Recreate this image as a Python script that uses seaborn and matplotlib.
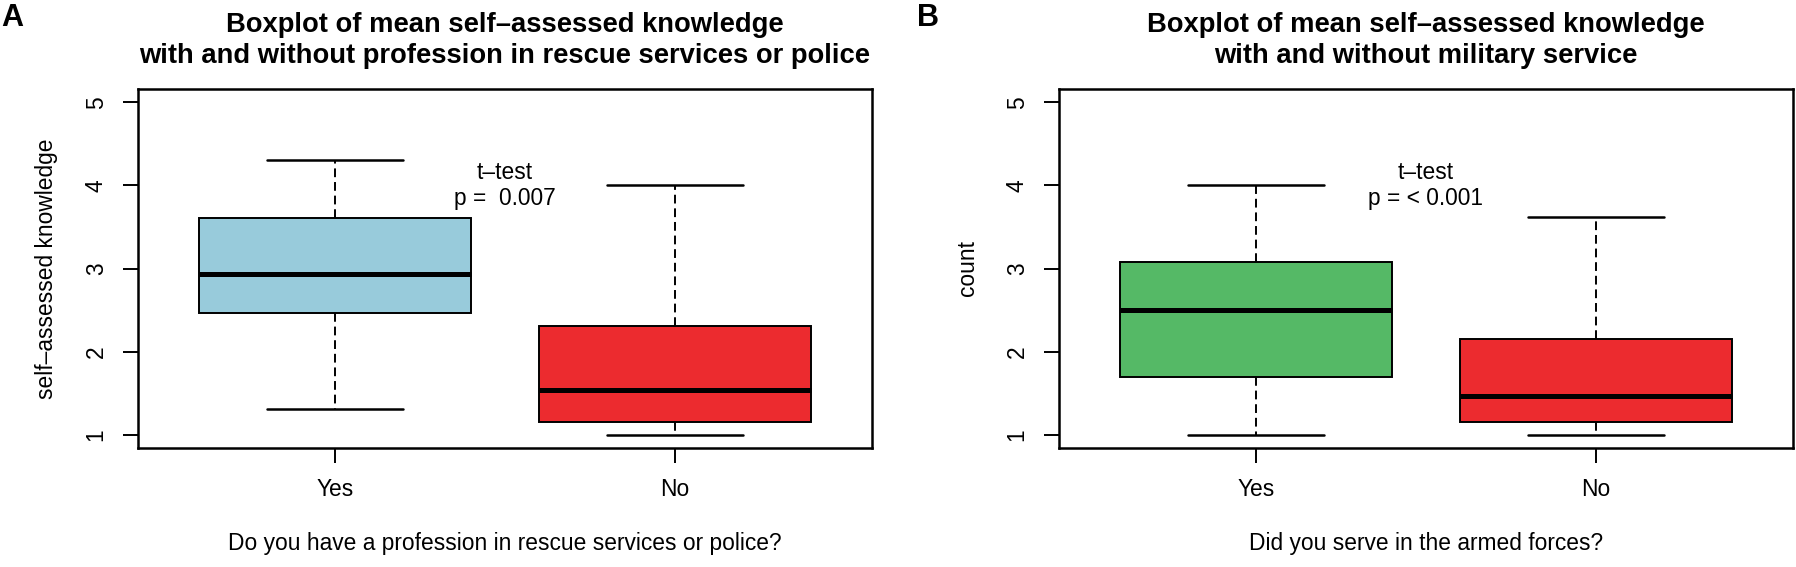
import matplotlib.pyplot as plt
import pandas as pd
import seaborn as sns

# five-number summaries (min, q1, median, q3, max)
groups = ["Yes", "No"]
rescue_yes = [1.31, 2.46, 2.93, 3.61, 4.31]
rescue_no = [1.0, 1.15, 1.54, 2.31, 4.0]
military_yes = [1.0, 1.69, 2.50, 3.08, 4.0]
military_no = [1.0, 1.15, 1.46, 2.15, 3.62]

rescue_colors = ["#98CBDB", "#EC2B2F"]
military_colors = ["#55B966", "#EC2B2F"]

titles = ["Boxplot of mean self\u2013assessed knowledge\nwith and without profession in rescue services or police",
          "Boxplot of mean self\u2013assessed knowledge\nwith and without military service"]
xlabels = ["Do you have a profession in rescue services or police?",
           "Did you serve in the armed forces?"]
ylabels = ["self\u2013assessed knowledge", "count"]
pvalues = ["t\u2013test\np =  0.007", "t\u2013test\np = < 0.001"]

sns.set_style("white")
plt.rcParams['font.family'] = ['Liberation Sans', 'DejaVu Sans']
plt.rcParams['text.color'] = 'black'
plt.rcParams['axes.labelcolor'] = 'black'
plt.rcParams['xtick.color'] = 'black'
plt.rcParams['ytick.color'] = 'black'

base = 16.4

fig = plt.figure(figsize=(17.96, 5.67), dpi=100)
ax1 = fig.add_axes([138 / 1796, 1 - 448 / 567, 734 / 1796, 359 / 567])
ax2 = fig.add_axes([1059 / 1796, 1 - 448 / 567, 734 / 1796, 359 / 567])

panels = [(ax1, rescue_yes, rescue_no, rescue_colors),
          (ax2, military_yes, military_no, military_colors)]

for i, (ax, yes, no, colors) in enumerate(panels):
    df = pd.DataFrame({"group": [groups[0]] * len(yes) + [groups[1]] * len(no),
                       "value": yes + no})
    sns.boxplot(data=df, x="group", y="value", hue="group", order=groups,
                hue_order=groups, palette=colors, saturation=1, width=0.8,
                whis=(0, 100), linecolor="black", linewidth=1.4,
                legend=False, ax=ax, capwidths=0.4,
                medianprops=dict(linewidth=3.6, solid_capstyle="butt"),
                whiskerprops=dict(linestyle=(0, (4.5, 2.5)), linewidth=1.4),
                capprops=dict(linewidth=1.8))

    ax.set_xlim(-0.58, 1.58)
    ax.set_ylim(0.84, 5.16)
    ax.set_yticks([1, 2, 3, 4, 5])
    ax.set_yticklabels(["1", "2", "3", "4", "5"], rotation=90, va="center")
    ax.tick_params(axis="both", direction="out", length=10.8, width=1.4,
                   labelsize=base, pad=11, left=True, bottom=True,
                   colors="black")
    for s in ax.spines.values():
        s.set_linewidth(1.8)
        s.set_color("black")

    ax.set_title(titles[i], fontsize=19.7, fontweight="bold", pad=19,
                 linespacing=1.25, color="black")
    ax.set_xlabel(xlabels[i], fontsize=base, labelpad=22)
    ax.set_ylabel(ylabels[i], fontsize=base, labelpad=19)
    ax.text(0.5, 4.0, pvalues[i], ha="center", va="center", fontsize=base,
            linespacing=1.2)

fig.text(1 / 1796, 1 - 18 / 567, "A", fontsize=22, fontweight="bold",
         ha="left", va="center")
fig.text(917 / 1796, 1 - 18 / 567, "B", fontsize=22, fontweight="bold",
         ha="left", va="center")

fig.savefig("out.png", dpi=100)
